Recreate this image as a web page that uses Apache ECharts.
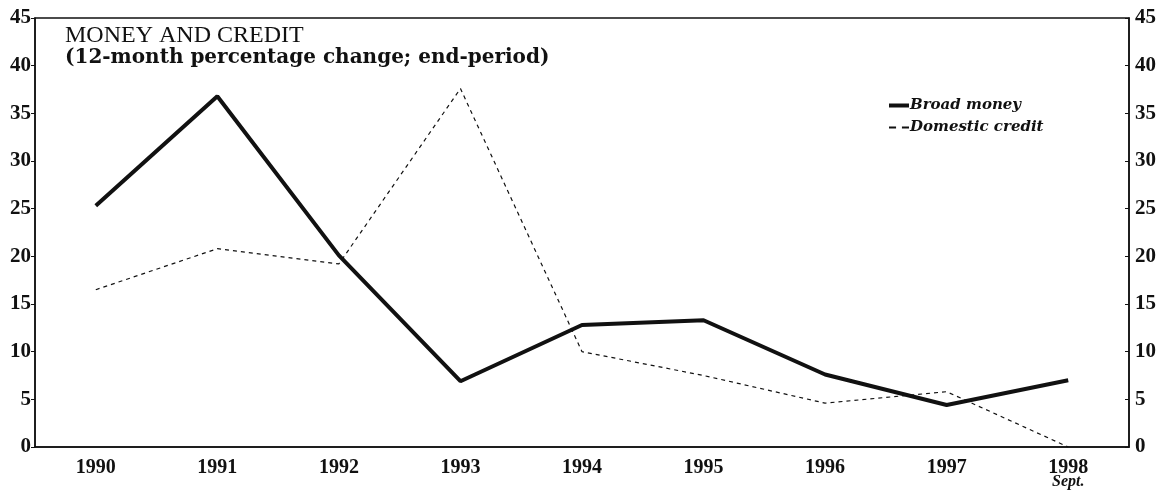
<!DOCTYPE html>
<html>
<head>
    <meta charset="utf-8">
    <title>Money and credit</title>
    <script src="https://cdn.jsdelivr.net/npm/echarts@6/dist/echarts.min.js"></script>
    <style>
        body { margin: 0; background: #fff; }
        #main { width: 1166px; height: 491px; }
    </style>
</head>
<body>
    <div id="main"></div>
    <script type="text/javascript">
        // categories along the bottom
        var years = ['1990', '1991', '1992', '1993', '1994', '1995', '1996', '1997', '1998'];
        // 12-month % change, end-period
        var broadMoney = [25.3, 36.8, 20.1, 6.9, 12.8, 13.3, 7.6, 4.4, 7.0];
        var domesticCredit = [16.5, 20.8, 19.2, 37.6, 10.0, 7.5, 4.6, 5.8, 0];

        var serif = 'Liberation Serif';
        var wideSerif = 'DejaVu Serif';
        var chart = echarts.init(document.getElementById('main'));

        var option = {
            animation: false,
            backgroundColor: '#fff',
            title: {
                text: 'MONEY AND CREDIT',
                subtext: '(12-month percentage change; end-period)',
                left: 60,
                top: 19,
                itemGap: 0,
                textStyle: { fontFamily: serif, fontSize: 24, fontWeight: 'normal', color: '#111' },
                subtextStyle: { fontFamily: wideSerif, fontSize: 20, fontWeight: 'bold', color: '#111' }
            },
            legend: {
                orient: 'vertical',
                left: 884,
                top: 93,
                itemGap: 7,
                itemWidth: 20,
                itemHeight: 10,
                textStyle: { fontFamily: wideSerif, fontSize: 15, fontStyle: 'italic', fontWeight: 'bold', color: '#111', padding: [0, 0, 0, -4] },
                data: [
                    { name: 'Broad money', icon: 'path://M0,0 L20,0 L20,4 L0,4 Z' },
                    { name: 'Domestic credit', icon: 'path://M0,0 L6,0 L6,1.5 L0,1.5 Z M11,0 L17,0 L17,1.5 L11,1.5 Z' }
                ]
            },
            grid: {
                left: 35,
                right: 37,
                top: 18,
                bottom: 44,
                show: true,
                borderColor: '#111',
                borderWidth: 1.5
            },
            xAxis: {
                type: 'category',
                data: years,
                boundaryGap: true,
                axisLine: { lineStyle: { color: '#111', width: 1.5 } },
                axisTick: { inside: true, length: 6, lineStyle: { color: '#111' } },
                axisLabel: {
                    color: '#111',
                    fontFamily: serif,
                    fontSize: 20,
                    fontWeight: 'bold',
                    margin: 12,
                    lineHeight: 17,
                    formatter: function (v) {
                        return v === '1998' ? v + '\n{s|Sept.}' : v;
                    },
                    rich: {
                        s: { fontFamily: serif, fontSize: 16, fontStyle: 'italic', fontWeight: 'bold', lineHeight: 12, color: '#111' }
                    }
                }
            },
            yAxis: [{
                type: 'value',
                min: 0,
                max: 45,
                interval: 5,
                position: 'left',
                splitLine: { show: false },
                axisLine: { show: true, lineStyle: { color: '#111', width: 1.5 } },
                axisTick: { show: true, length: 4, lineStyle: { color: '#111' } },
                axisLabel: { color: '#111', fontFamily: serif, fontSize: 21, fontWeight: 'bold', margin: 4 }
            }, {
                type: 'value',
                min: 0,
                max: 45,
                interval: 5,
                position: 'right',
                splitLine: { show: false },
                axisLine: { show: true, lineStyle: { color: '#111', width: 1.5 } },
                axisTick: { show: true, inside: true, length: 4, lineStyle: { color: '#111' } },
                axisLabel: { color: '#111', fontFamily: serif, fontSize: 21, fontWeight: 'bold', margin: 6 }
            }],
            series: [{
                name: 'Broad money',
                type: 'line',
                data: broadMoney,
                symbol: 'none',
                lineStyle: { color: '#111', width: 4 },
                itemStyle: { color: '#111' }
            }, {
                name: 'Domestic credit',
                type: 'line',
                data: domesticCredit,
                symbol: 'none',
                lineStyle: { color: '#111', width: 1.2, type: [4, 4] },
                itemStyle: { color: '#111' }
            }]
        };

        chart.setOption(option);
    </script>
</body>
</html>
